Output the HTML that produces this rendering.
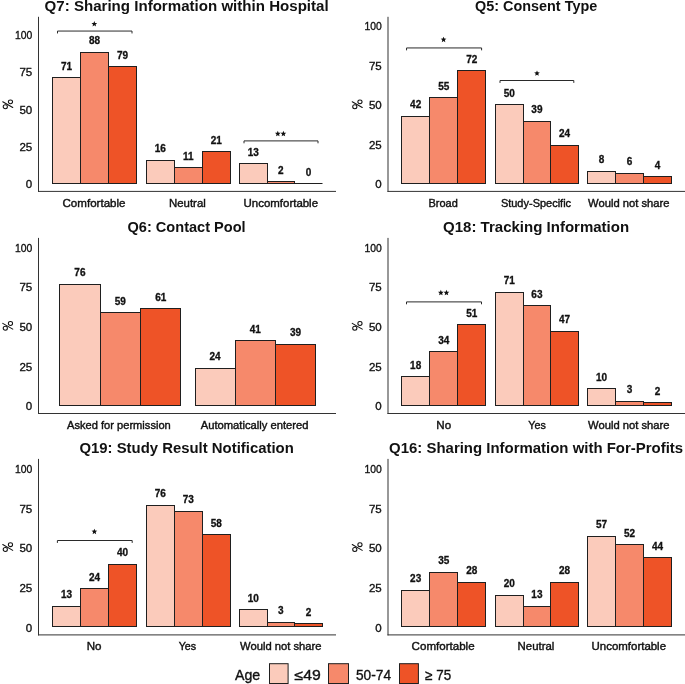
<!DOCTYPE html>
<html><head><meta charset="utf-8"><style>
html,body{margin:0;padding:0;background:#fff;width:685px;height:684px;overflow:hidden;position:relative}
text{font-family:"Liberation Sans",sans-serif;fill:#111}
.tk{font-size:11.5px;text-anchor:end;fill:#111;stroke:#111;stroke-width:0.35px}
.vl{font-size:10px;font-weight:bold;text-anchor:middle;stroke:#111;stroke-width:0.3px}
.xl{font-size:11px;text-anchor:middle;fill:#111;stroke:#111;stroke-width:0.4px}
.ti{font-size:14.2px;font-weight:bold;text-anchor:middle}
.yt{font-size:14px;text-anchor:middle;fill:#111}
.st{font-size:12px;font-weight:bold;text-anchor:middle}
.lg{font-size:14px;fill:#111;stroke:#111;stroke-width:0.35px}
</style></head><body>
<svg width="685" height="684" viewBox="0 0 685 684" style="position:absolute;left:0;top:0;will-change:transform">
<rect x="38.0" y="16.8" width="1" height="175.10" fill="#333333"/>
<rect x="38.0" y="190.9" width="298.0" height="1" fill="#333333"/>
<text x="32.2" y="188.30" class="tk">0</text>
<text x="32.2" y="150.96" class="tk">25</text>
<text x="32.2" y="113.62" class="tk">50</text>
<text x="32.2" y="76.29" class="tk">75</text>
<text x="32.2" y="38.95" class="tk" textLength="17.3" lengthAdjust="spacingAndGlyphs">100</text>
<g fill="none" stroke="#111" stroke-width="1.05"><ellipse cx="10.45" cy="101.85" rx="2.1" ry="1.95"/><ellipse cx="5.30" cy="106.65" rx="2.1" ry="2.0"/><path d="M2.75,101.75 L12.75,107.55" stroke-linecap="round"/></g>
<rect x="52.50" y="77.50" width="28.00" height="106.00" fill="#FBCBBB" stroke="#1f1f1f" stroke-width="1"/>
<text x="66.58" y="69.60" class="vl">71</text>
<rect x="80.50" y="52.50" width="28.00" height="131.00" fill="#F6896B" stroke="#1f1f1f" stroke-width="1"/>
<text x="94.55" y="44.30" class="vl">88</text>
<rect x="108.50" y="66.50" width="28.00" height="117.00" fill="#EE5327" stroke="#1f1f1f" stroke-width="1"/>
<text x="122.52" y="58.50" class="vl">79</text>
<text x="94.00" y="206.8" class="xl" textLength="63.0" lengthAdjust="spacingAndGlyphs">Comfortable</text>
<rect x="146.50" y="160.50" width="28.00" height="23.00" fill="#FBCBBB" stroke="#1f1f1f" stroke-width="1"/>
<text x="160.27" y="151.90" class="vl">16</text>
<rect x="174.50" y="167.50" width="28.00" height="16.00" fill="#F6896B" stroke="#1f1f1f" stroke-width="1"/>
<text x="188.30" y="159.50" class="vl">11</text>
<rect x="202.50" y="151.50" width="28.00" height="32.00" fill="#EE5327" stroke="#1f1f1f" stroke-width="1"/>
<text x="216.33" y="143.60" class="vl">21</text>
<text x="187.40" y="206.8" class="xl" textLength="36.8" lengthAdjust="spacingAndGlyphs">Neutral</text>
<rect x="239.50" y="163.50" width="28.00" height="20.00" fill="#FBCBBB" stroke="#1f1f1f" stroke-width="1"/>
<text x="253.30" y="155.50" class="vl">13</text>
<rect x="267.50" y="181.50" width="27.00" height="2.00" fill="#F6896B" stroke="#1f1f1f" stroke-width="1"/>
<text x="280.90" y="173.60" class="vl">2</text>
<path d="M294.50,183.50H322.50" stroke="#1f1f1f" stroke-width="1"/>
<text x="308.50" y="175.80" class="vl">0</text>
<text x="280.80" y="206.8" class="xl" textLength="74.5" lengthAdjust="spacingAndGlyphs">Uncomfortable</text>
<path d="M57.50,33.45 V31.05 H132.00 V33.45" fill="none" stroke="#2a2a2a" stroke-width="1"/>
<polygon points="94.30,21.00 95.09,22.91 97.15,23.07 95.58,24.42 96.06,26.43 94.30,25.35 92.54,26.43 93.02,24.42 91.45,23.07 93.51,22.91" fill="#111"/>
<path d="M244.00,143.30 V140.90 H318.00 V143.30" fill="none" stroke="#2a2a2a" stroke-width="1"/>
<polygon points="277.80,130.80 278.59,132.71 280.65,132.87 279.08,134.22 279.56,136.23 277.80,135.15 276.04,136.23 276.52,134.22 274.95,132.87 277.01,132.71" fill="#111"/>
<polygon points="283.40,130.80 284.19,132.71 286.25,132.87 284.68,134.22 285.16,136.23 283.40,135.15 281.64,136.23 282.12,134.22 280.55,132.87 282.61,132.71" fill="#111"/>
<text x="186.60" y="10.7" class="ti" textLength="284.1" lengthAdjust="spacingAndGlyphs">Q7: Sharing Information within Hospital</text>
<rect x="387.5" y="16.8" width="1" height="175.10" fill="#333333"/>
<rect x="387.5" y="190.9" width="298.5" height="1" fill="#333333"/>
<text x="381.7" y="188.35" class="tk">0</text>
<text x="381.7" y="148.88" class="tk">25</text>
<text x="381.7" y="109.40" class="tk">50</text>
<text x="381.7" y="69.93" class="tk">75</text>
<text x="381.7" y="30.45" class="tk" textLength="17.3" lengthAdjust="spacingAndGlyphs">100</text>
<g fill="none" stroke="#111" stroke-width="1.05"><ellipse cx="359.95" cy="101.85" rx="2.1" ry="1.95"/><ellipse cx="354.80" cy="106.65" rx="2.1" ry="2.0"/><path d="M352.25,101.75 L362.25,107.55" stroke-linecap="round"/></g>
<rect x="401.50" y="116.50" width="28.00" height="67.00" fill="#FBCBBB" stroke="#1f1f1f" stroke-width="1"/>
<text x="415.65" y="107.90" class="vl">42</text>
<rect x="429.50" y="97.50" width="28.00" height="86.00" fill="#F6896B" stroke="#1f1f1f" stroke-width="1"/>
<text x="443.75" y="89.50" class="vl">55</text>
<rect x="457.50" y="70.50" width="28.00" height="113.00" fill="#EE5327" stroke="#1f1f1f" stroke-width="1"/>
<text x="471.85" y="62.50" class="vl">72</text>
<text x="443.10" y="206.8" class="xl" textLength="29.3" lengthAdjust="spacingAndGlyphs">Broad</text>
<rect x="495.50" y="104.50" width="28.00" height="79.00" fill="#FBCBBB" stroke="#1f1f1f" stroke-width="1"/>
<text x="509.31" y="96.60" class="vl">50</text>
<rect x="523.50" y="121.50" width="27.00" height="62.00" fill="#F6896B" stroke="#1f1f1f" stroke-width="1"/>
<text x="536.92" y="113.40" class="vl">39</text>
<rect x="550.50" y="145.50" width="28.00" height="38.00" fill="#EE5327" stroke="#1f1f1f" stroke-width="1"/>
<text x="564.53" y="136.80" class="vl">24</text>
<text x="536.00" y="206.8" class="xl" textLength="70.2" lengthAdjust="spacingAndGlyphs">Study-Specific</text>
<rect x="587.50" y="171.50" width="28.00" height="12.00" fill="#FBCBBB" stroke="#1f1f1f" stroke-width="1"/>
<text x="601.58" y="163.10" class="vl">8</text>
<rect x="615.50" y="173.50" width="28.00" height="10.00" fill="#F6896B" stroke="#1f1f1f" stroke-width="1"/>
<text x="629.55" y="165.20" class="vl">6</text>
<rect x="643.50" y="176.50" width="28.00" height="7.00" fill="#EE5327" stroke="#1f1f1f" stroke-width="1"/>
<text x="657.52" y="168.60" class="vl">4</text>
<text x="628.80" y="206.8" class="xl" textLength="81.4" lengthAdjust="spacingAndGlyphs">Would not share</text>
<path d="M406.55,50.35 V47.95 H481.60 V50.35" fill="none" stroke="#2a2a2a" stroke-width="1"/>
<polygon points="443.55,36.70 444.34,38.61 446.40,38.77 444.83,40.12 445.31,42.13 443.55,41.05 441.79,42.13 442.27,40.12 440.70,38.77 442.76,38.61" fill="#111"/>
<path d="M500.00,82.90 V80.50 H573.80 V82.90" fill="none" stroke="#2a2a2a" stroke-width="1"/>
<polygon points="537.00,70.40 537.79,72.31 539.85,72.47 538.28,73.82 538.76,75.83 537.00,74.75 535.24,75.83 535.72,73.82 534.15,72.47 536.21,72.31" fill="#111"/>
<text x="536.10" y="10.7" class="ti" textLength="122.2" lengthAdjust="spacingAndGlyphs">Q5: Consent Type</text>
<rect x="38.0" y="237.9" width="1" height="176.10" fill="#333333"/>
<rect x="38.0" y="413.0" width="298.0" height="1" fill="#333333"/>
<text x="32.2" y="410.40" class="tk">0</text>
<text x="32.2" y="370.74" class="tk">25</text>
<text x="32.2" y="331.07" class="tk">50</text>
<text x="32.2" y="291.41" class="tk">75</text>
<text x="32.2" y="251.75" class="tk" textLength="17.3" lengthAdjust="spacingAndGlyphs">100</text>
<g fill="none" stroke="#111" stroke-width="1.05"><ellipse cx="10.45" cy="323.45" rx="2.1" ry="1.95"/><ellipse cx="5.30" cy="328.25" rx="2.1" ry="2.0"/><path d="M2.75,323.35 L12.75,329.15" stroke-linecap="round"/></g>
<rect x="59.50" y="284.50" width="41.00" height="121.00" fill="#FBCBBB" stroke="#1f1f1f" stroke-width="1"/>
<text x="79.90" y="276.30" class="vl">76</text>
<rect x="100.50" y="312.50" width="40.00" height="93.00" fill="#F6896B" stroke="#1f1f1f" stroke-width="1"/>
<text x="120.30" y="304.50" class="vl">59</text>
<rect x="140.50" y="308.50" width="40.00" height="97.00" fill="#EE5327" stroke="#1f1f1f" stroke-width="1"/>
<text x="160.70" y="300.70" class="vl">61</text>
<text x="118.90" y="429.0" class="xl" textLength="103.8" lengthAdjust="spacingAndGlyphs">Asked for permission</text>
<rect x="195.50" y="368.50" width="40.00" height="37.00" fill="#FBCBBB" stroke="#1f1f1f" stroke-width="1"/>
<text x="215.12" y="360.30" class="vl">24</text>
<rect x="235.50" y="340.50" width="40.00" height="65.00" fill="#F6896B" stroke="#1f1f1f" stroke-width="1"/>
<text x="255.35" y="332.50" class="vl">41</text>
<rect x="275.50" y="344.50" width="40.00" height="61.00" fill="#EE5327" stroke="#1f1f1f" stroke-width="1"/>
<text x="295.58" y="335.80" class="vl">39</text>
<text x="254.60" y="429.0" class="xl" textLength="107.7" lengthAdjust="spacingAndGlyphs">Automatically entered</text>
<text x="186.60" y="232.2" class="ti" textLength="118.1" lengthAdjust="spacingAndGlyphs">Q6: Contact Pool</text>
<rect x="387.5" y="237.9" width="1" height="176.10" fill="#333333"/>
<rect x="387.5" y="413.0" width="298.5" height="1" fill="#333333"/>
<text x="381.7" y="410.40" class="tk">0</text>
<text x="381.7" y="370.74" class="tk">25</text>
<text x="381.7" y="331.07" class="tk">50</text>
<text x="381.7" y="291.41" class="tk">75</text>
<text x="381.7" y="251.75" class="tk" textLength="17.3" lengthAdjust="spacingAndGlyphs">100</text>
<g fill="none" stroke="#111" stroke-width="1.05"><ellipse cx="359.95" cy="323.45" rx="2.1" ry="1.95"/><ellipse cx="354.80" cy="328.25" rx="2.1" ry="2.0"/><path d="M352.25,323.35 L362.25,329.15" stroke-linecap="round"/></g>
<rect x="401.50" y="376.50" width="28.00" height="29.00" fill="#FBCBBB" stroke="#1f1f1f" stroke-width="1"/>
<text x="415.65" y="368.50" class="vl">18</text>
<rect x="429.50" y="351.50" width="28.00" height="54.00" fill="#F6896B" stroke="#1f1f1f" stroke-width="1"/>
<text x="443.75" y="343.60" class="vl">34</text>
<rect x="457.50" y="324.50" width="28.00" height="81.00" fill="#EE5327" stroke="#1f1f1f" stroke-width="1"/>
<text x="471.85" y="316.60" class="vl">51</text>
<text x="443.70" y="429.0" class="xl" textLength="14.8" lengthAdjust="spacingAndGlyphs">No</text>
<rect x="495.50" y="292.50" width="28.00" height="113.00" fill="#FBCBBB" stroke="#1f1f1f" stroke-width="1"/>
<text x="509.31" y="284.40" class="vl">71</text>
<rect x="523.50" y="305.50" width="27.00" height="100.00" fill="#F6896B" stroke="#1f1f1f" stroke-width="1"/>
<text x="536.92" y="297.50" class="vl">63</text>
<rect x="550.50" y="331.50" width="28.00" height="74.00" fill="#EE5327" stroke="#1f1f1f" stroke-width="1"/>
<text x="564.53" y="323.00" class="vl">47</text>
<text x="537.00" y="429.0" class="xl" textLength="17.5" lengthAdjust="spacingAndGlyphs">Yes</text>
<rect x="587.50" y="388.50" width="28.00" height="17.00" fill="#FBCBBB" stroke="#1f1f1f" stroke-width="1"/>
<text x="601.58" y="380.60" class="vl">10</text>
<rect x="615.50" y="401.50" width="28.00" height="4.00" fill="#F6896B" stroke="#1f1f1f" stroke-width="1"/>
<text x="629.55" y="392.80" class="vl">3</text>
<rect x="643.50" y="402.50" width="28.00" height="3.00" fill="#EE5327" stroke="#1f1f1f" stroke-width="1"/>
<text x="657.52" y="394.70" class="vl">2</text>
<text x="628.80" y="429.0" class="xl" textLength="81.4" lengthAdjust="spacingAndGlyphs">Would not share</text>
<path d="M406.50,304.30 V301.90 H481.50 V304.30" fill="none" stroke="#2a2a2a" stroke-width="1"/>
<polygon points="440.85,289.80 441.64,291.71 443.70,291.87 442.13,293.22 442.61,295.23 440.85,294.15 439.09,295.23 439.57,293.22 438.00,291.87 440.06,291.71" fill="#111"/>
<polygon points="446.45,289.80 447.24,291.71 449.30,291.87 447.73,293.22 448.21,295.23 446.45,294.15 444.69,295.23 445.17,293.22 443.60,291.87 445.66,291.71" fill="#111"/>
<text x="536.10" y="232.2" class="ti" textLength="186.1" lengthAdjust="spacingAndGlyphs">Q18: Tracking Information</text>
<rect x="38.0" y="458.9" width="1" height="176.50" fill="#333333"/>
<rect x="38.0" y="634.4" width="298.0" height="1" fill="#333333"/>
<text x="32.2" y="631.70" class="tk">0</text>
<text x="32.2" y="591.99" class="tk">25</text>
<text x="32.2" y="552.27" class="tk">50</text>
<text x="32.2" y="512.56" class="tk">75</text>
<text x="32.2" y="472.85" class="tk" textLength="17.3" lengthAdjust="spacingAndGlyphs">100</text>
<g fill="none" stroke="#111" stroke-width="1.05"><ellipse cx="10.45" cy="544.65" rx="2.1" ry="1.95"/><ellipse cx="5.30" cy="549.45" rx="2.1" ry="2.0"/><path d="M2.75,544.55 L12.75,550.35" stroke-linecap="round"/></g>
<rect x="52.50" y="606.50" width="28.00" height="20.00" fill="#FBCBBB" stroke="#1f1f1f" stroke-width="1"/>
<text x="66.58" y="598.20" class="vl">13</text>
<rect x="80.50" y="588.50" width="28.00" height="38.00" fill="#F6896B" stroke="#1f1f1f" stroke-width="1"/>
<text x="94.55" y="580.60" class="vl">24</text>
<rect x="108.50" y="564.50" width="28.00" height="62.00" fill="#EE5327" stroke="#1f1f1f" stroke-width="1"/>
<text x="122.52" y="556.10" class="vl">40</text>
<text x="94.10" y="650.4" class="xl" textLength="14.8" lengthAdjust="spacingAndGlyphs">No</text>
<rect x="146.50" y="505.50" width="28.00" height="121.00" fill="#FBCBBB" stroke="#1f1f1f" stroke-width="1"/>
<text x="160.27" y="497.40" class="vl">76</text>
<rect x="174.50" y="511.50" width="28.00" height="115.00" fill="#F6896B" stroke="#1f1f1f" stroke-width="1"/>
<text x="188.30" y="502.90" class="vl">73</text>
<rect x="202.50" y="534.50" width="28.00" height="92.00" fill="#EE5327" stroke="#1f1f1f" stroke-width="1"/>
<text x="216.33" y="526.50" class="vl">58</text>
<text x="187.40" y="650.4" class="xl" textLength="17.5" lengthAdjust="spacingAndGlyphs">Yes</text>
<rect x="239.50" y="609.50" width="28.00" height="17.00" fill="#FBCBBB" stroke="#1f1f1f" stroke-width="1"/>
<text x="253.30" y="601.50" class="vl">10</text>
<rect x="267.50" y="622.50" width="27.00" height="4.00" fill="#F6896B" stroke="#1f1f1f" stroke-width="1"/>
<text x="280.90" y="614.10" class="vl">3</text>
<rect x="294.50" y="623.50" width="28.00" height="3.00" fill="#EE5327" stroke="#1f1f1f" stroke-width="1"/>
<text x="308.50" y="615.50" class="vl">2</text>
<text x="280.80" y="650.4" class="xl" textLength="81.4" lengthAdjust="spacingAndGlyphs">Would not share</text>
<path d="M57.40,542.90 V540.50 H132.20 V542.90" fill="none" stroke="#2a2a2a" stroke-width="1"/>
<polygon points="94.40,528.70 95.19,530.61 97.25,530.77 95.68,532.12 96.16,534.13 94.40,533.05 92.64,534.13 93.12,532.12 91.55,530.77 93.61,530.61" fill="#111"/>
<text x="186.60" y="453.4" class="ti" textLength="214.4" lengthAdjust="spacingAndGlyphs">Q19: Study Result Notification</text>
<rect x="387.5" y="458.9" width="1" height="176.50" fill="#333333"/>
<rect x="387.5" y="634.4" width="298.5" height="1" fill="#333333"/>
<text x="381.7" y="631.70" class="tk">0</text>
<text x="381.7" y="591.99" class="tk">25</text>
<text x="381.7" y="552.27" class="tk">50</text>
<text x="381.7" y="512.56" class="tk">75</text>
<text x="381.7" y="472.85" class="tk" textLength="17.3" lengthAdjust="spacingAndGlyphs">100</text>
<g fill="none" stroke="#111" stroke-width="1.05"><ellipse cx="359.95" cy="544.65" rx="2.1" ry="1.95"/><ellipse cx="354.80" cy="549.45" rx="2.1" ry="2.0"/><path d="M352.25,544.55 L362.25,550.35" stroke-linecap="round"/></g>
<rect x="401.50" y="590.50" width="28.00" height="36.00" fill="#FBCBBB" stroke="#1f1f1f" stroke-width="1"/>
<text x="415.65" y="582.30" class="vl">23</text>
<rect x="429.50" y="572.50" width="28.00" height="54.00" fill="#F6896B" stroke="#1f1f1f" stroke-width="1"/>
<text x="443.75" y="563.90" class="vl">35</text>
<rect x="457.50" y="582.50" width="28.00" height="44.00" fill="#EE5327" stroke="#1f1f1f" stroke-width="1"/>
<text x="471.85" y="573.80" class="vl">28</text>
<text x="443.10" y="650.4" class="xl" textLength="63.0" lengthAdjust="spacingAndGlyphs">Comfortable</text>
<rect x="495.50" y="595.50" width="28.00" height="31.00" fill="#FBCBBB" stroke="#1f1f1f" stroke-width="1"/>
<text x="509.31" y="586.90" class="vl">20</text>
<rect x="523.50" y="606.50" width="27.00" height="20.00" fill="#F6896B" stroke="#1f1f1f" stroke-width="1"/>
<text x="536.92" y="598.00" class="vl">13</text>
<rect x="550.50" y="582.50" width="28.00" height="44.00" fill="#EE5327" stroke="#1f1f1f" stroke-width="1"/>
<text x="564.53" y="573.80" class="vl">28</text>
<text x="536.00" y="650.4" class="xl" textLength="36.8" lengthAdjust="spacingAndGlyphs">Neutral</text>
<rect x="587.50" y="536.50" width="28.00" height="90.00" fill="#FBCBBB" stroke="#1f1f1f" stroke-width="1"/>
<text x="601.58" y="528.30" class="vl">57</text>
<rect x="615.50" y="544.50" width="28.00" height="82.00" fill="#F6896B" stroke="#1f1f1f" stroke-width="1"/>
<text x="629.55" y="536.70" class="vl">52</text>
<rect x="643.50" y="557.50" width="28.00" height="69.00" fill="#EE5327" stroke="#1f1f1f" stroke-width="1"/>
<text x="657.52" y="549.50" class="vl">44</text>
<text x="628.80" y="650.4" class="xl" textLength="74.5" lengthAdjust="spacingAndGlyphs">Uncomfortable</text>
<text x="536.10" y="453.4" class="ti" textLength="294.0" lengthAdjust="spacingAndGlyphs">Q16: Sharing Information with For-Profits</text>
<text x="235.0" y="679.8" class="lg" textLength="25.2" lengthAdjust="spacingAndGlyphs">Age</text>
<rect x="269.50" y="663.7" width="18.60" height="19.8" fill="#FBCBBB" stroke="#1f1f1f" stroke-width="1"/>
<text x="294.6" y="680.0" class="lg" textLength="26.2" lengthAdjust="spacingAndGlyphs">≤49</text>
<rect x="328.50" y="663.7" width="20.00" height="19.8" fill="#F6896B" stroke="#1f1f1f" stroke-width="1"/>
<text x="356.0" y="680.0" class="lg" textLength="35.0" lengthAdjust="spacingAndGlyphs">50-74</text>
<rect x="399.50" y="663.7" width="18.90" height="19.8" fill="#EE5327" stroke="#1f1f1f" stroke-width="1"/>
<text x="425.2" y="680.0" class="lg" textLength="26.0" lengthAdjust="spacingAndGlyphs">≥ 75</text>
</svg>
</body></html>
